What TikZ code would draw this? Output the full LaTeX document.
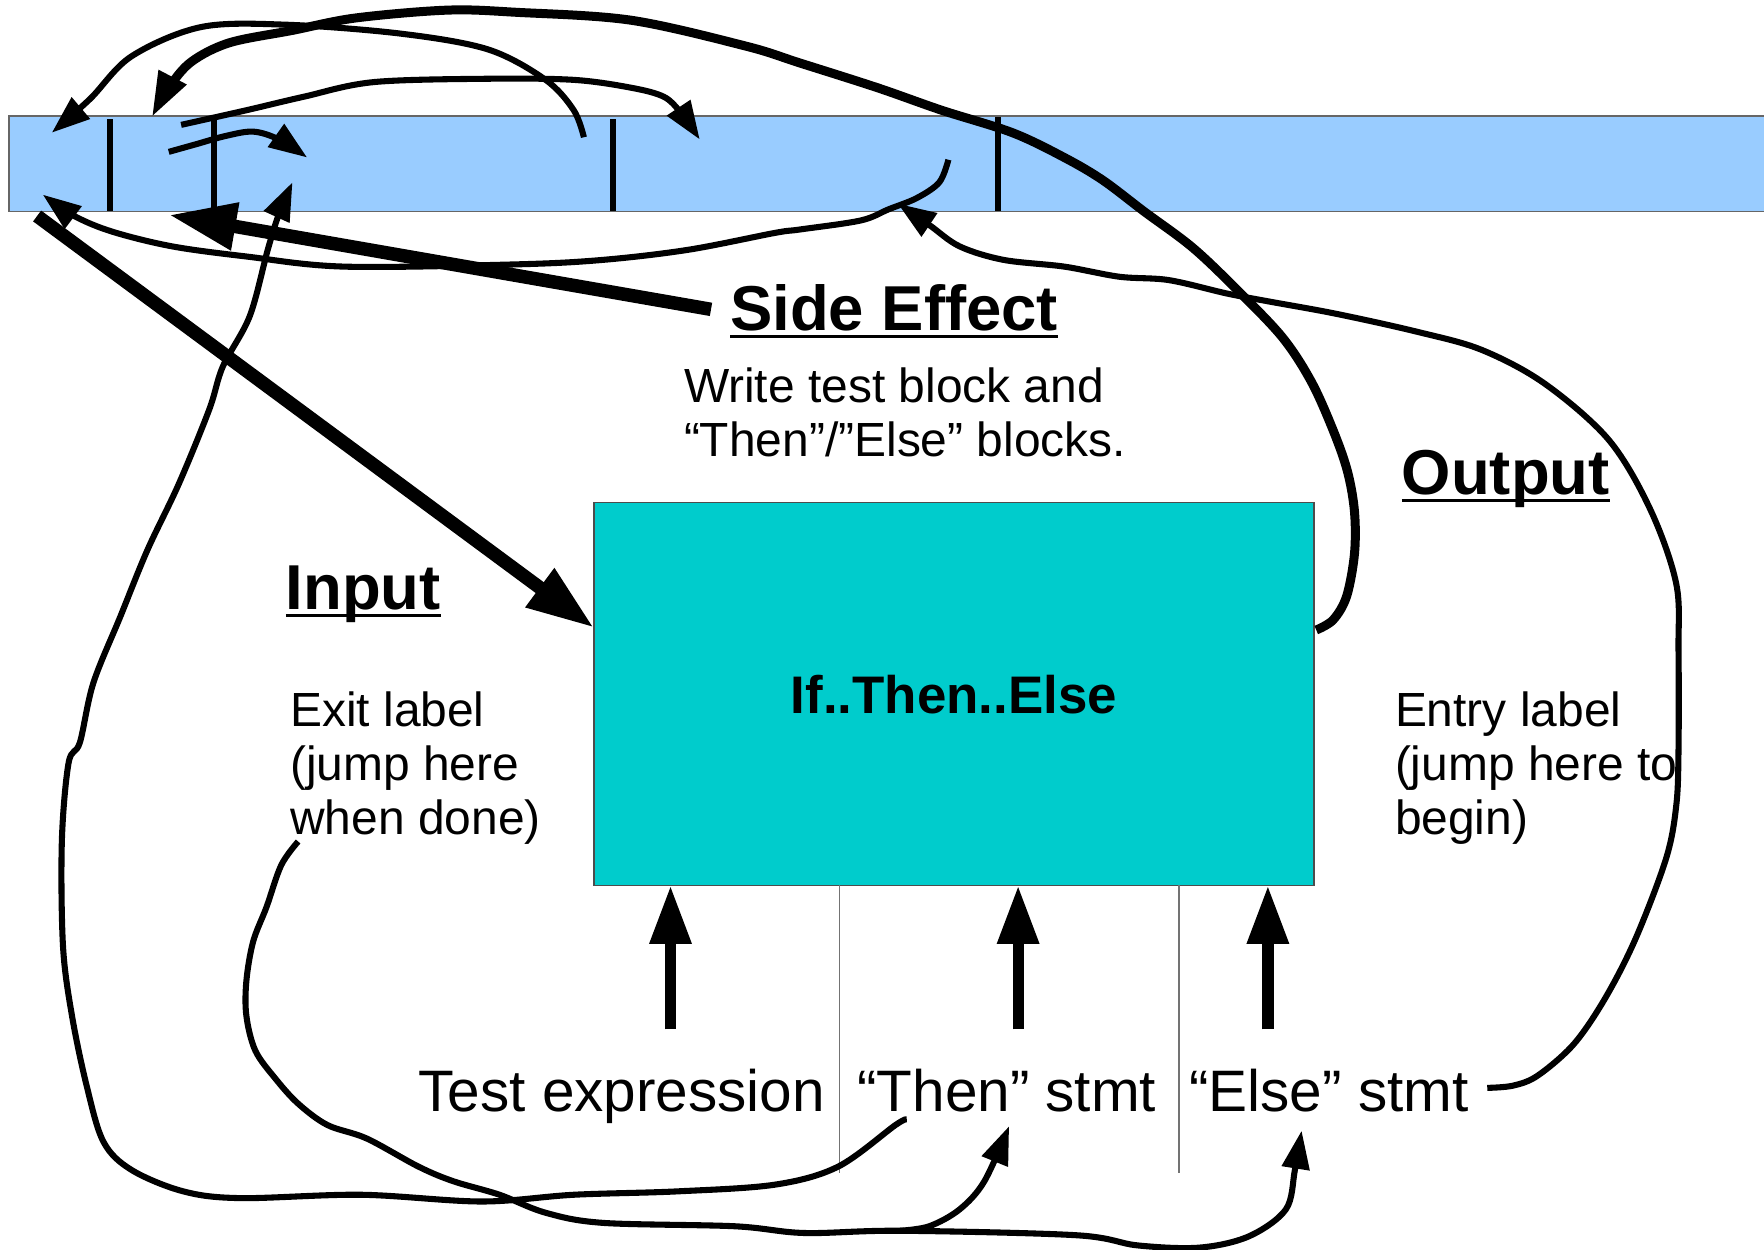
\documentclass[tikz,border=0pt]{standalone}
\usepackage{fontspec}
\setmainfont{Liberation Sans}
\usetikzlibrary{arrows.meta}
\definecolor{bandblue}{HTML}{99CCFF}
\definecolor{boxcyan}{HTML}{00CCCC}
\begin{document}
\begin{tikzpicture}[x=0.5pt,y=-0.5pt,
  every node/.style={inner sep=0pt,outer sep=0pt},
  txt/.style={anchor=base west,font=\fontsize{21.3}{24}\selectfont},
  bigtxt/.style={anchor=base west,font=\fontsize{26}{30}\selectfont},
  heading/.style={anchor=base west,font=\bfseries\fontsize{28.2}{32}\selectfont},
  ul/.style={line width=1.5pt},
  tickmark/.style={line width=2.5pt},
  sepline/.style={line width=0.5pt,draw=black!55},
  wire/.style={line width=2.7pt,line join=round},
  thickwire/.style={line width=4pt,line join=round},
  heavy/.style={line width=6pt},
  thinhead/.style={-{Triangle[length=17pt,width=12pt]}},
  midhead/.style={-{Triangle[length=20pt,width=13pt]}},
  bighead/.style={-{Triangle[length=30pt,width=20pt]}},
  uphead/.style={-{Triangle[length=26pt,width=17.5pt]}},
]
\useasboundingbox (0,0) rectangle (1568,1111);

% memory band and its slot marks
\node[draw=black!60,line width=0.6pt,fill=bandblue,anchor=north west,
      minimum width=790pt,minimum height=42.5pt] (band) at (8,103) {};
\draw[tickmark] (98,106) -- (98,188);
\draw[tickmark] (190,105) -- (190,186);
\draw[tickmark] (545,106) -- (545,188);
\draw[tickmark] (887,104) -- (887,188);

% the construct itself
\node[draw=black!70,line width=0.5pt,fill=boxcyan,minimum width=320pt,minimum height=170pt,
      font=\bfseries\fontsize{23.5}{28}\selectfont] (ite) at (848,617) {If..Then..Else};

% separators between the three operands
\draw[sepline] (ite.south -| 746,0) -- (746,1043);
\draw[sepline] (ite.south -| 1048,0) -- (1048,1043);

% headings
\node[heading] (se) at (649,294) {Side Effect};
\draw[ul] ([yshift=-2.5pt]se.base west) -- ([yshift=-2.5pt]se.base east);
\node[heading] (inp) at (254,542) {Input};
\draw[ul] ([yshift=-2.5pt]inp.base west) -- ([yshift=-2.5pt]inp.base east);
\node[heading] (outp) at (1246,440) {Output};
\draw[ul] ([yshift=-2.5pt]outp.base west) -- ([yshift=-2.5pt]outp.base east);

% descriptive text
\node[txt] (se1) at (608,358) {Write test block and};
\node[txt] (se2) at (608,406) {“Then”/”Else” blocks.};
\node[txt] (ex1) at (258,646) {Exit label};
\node[txt] (ex2) at (258,694) {(jump here};
\node[txt] (ex3) at (258,742) {when done)};
\node[txt] (en1) at (1240,646) {Entry label};
\node[txt] (en2) at (1240,694) {(jump here to};
\node[txt] (en3) at (1240,742) {begin)};

% operands
\node[bigtxt] (test) at (372,988) {Test expression};
\node[bigtxt] (then) at (762,988) {“Then” stmt};
\node[bigtxt] (else) at (1057,988) {“Else” stmt};

% operand arrows into the construct
\coordinate (tq) at (596,915);
\coordinate (hq) at (905,915);
\coordinate (eq) at (1127,915);
\draw[uphead,line width=5pt] (tq) -- (tq |- ite.south);
\draw[uphead,line width=5pt] (hq) -- (hq |- ite.south);
\draw[uphead,line width=5pt] (eq) -- (eq |- ite.south);

% input and side-effect arrows
\coordinate (inS) at (33,192);
\coordinate (inT) at (528,558);
\draw[heavy,bighead] (inS) -- (inT);
\coordinate (seS) at (632,275);
\coordinate (seT) at (150,191);
\draw[heavy,bighead] (seS) -- (seT);

% output: jump from the end of the construct back to the start of the band
\coordinate (dS) at (1170,560);
\coordinate (dT) at (135,104);
\draw[thickwire,midhead] plot[smooth,tension=0.55] coordinates {(dS) (1185,551) (1197,530)
  (1204,492) (1204,455) (1198,420) (1186,385) (1166,340) (1140,300) (1100,258) (1060,220)
  (1017,188) (980,160) (946,140) (900,118) (837,98) (780,78) (711,56) (663,41) (561,18)
  (460,11) (398,9) (316,16) (260,27) (204,38) (170,55) (150,78) (dT)};

% jumps inside the band
\coordinate (eS) at (519,122);
\coordinate (eT) at (46,118);
\draw[wire,thinhead] plot[smooth,tension=0.55] coordinates {(eS) (510,98) (485,71) (434,44)
  (357,30) (255,22) (179,24) (117,50) (80,88) (eT)};
\coordinate (fS) at (161,111);
\coordinate (fT) at (622,124);
\draw[wire,thinhead] plot[smooth,tension=0.55] coordinates {(fS) (219,98) (270,86) (332,73)
  (434,70) (510,71) (561,78) (590,86) (605,100) (fT)};
\coordinate (gS) at (150,135);
\coordinate (gT) at (273,140);
\draw[wire,thinhead] plot[smooth,tension=0.55] coordinates {(gS) (175,128) (200,121)
  (225,117) (248,124) (gT)};
\coordinate (hS) at (843,142);
\coordinate (hT) at (38,173);
\draw[wire,thinhead] plot[smooth,tension=0.55] coordinates {(hS) (835,162) (815,176)
  (790,186) (765,196) (711,204) (689,207) (612,222) (536,231) (459,235) (306,237)
  (219,228) (153,219) (100,206) (66,192) (hT)};

% entry label: from the else operand round to the band
\coordinate (cS) at (1322,967);
\coordinate (cT) at (798,181);
\draw[wire,thinhead] plot[smooth,tension=0.55] coordinates {(cS) (1345,965) (1367,956)
  (1399,928) (1427,887) (1454,834) (1481,763) (1490,716) (1492,667) (1492,578) (1490,519)
  (1467,453) (1430,391) (1373,341) (1317,311) (1260,295) (1188,279) (1128,268) (1091,261)
  (1039,249) (995,246) (946,237) (892,231) (853,219) (826,200) (cT)};

% from the then operand round the left side into the band
\coordinate (bS) at (806,995);
\coordinate (bT) at (260,162);
\draw[wire,thinhead] plot[smooth,tension=0.55] coordinates {(bS) (796,1000) (745,1037)
  (689,1053) (602,1059) (510,1062) (428,1068) (321,1062) (214,1065) (163,1059) (117,1040)
  (92,1015) (77,965) (64,903) (56,841) (55,747) (61,678) (71,660) (83,607) (107,548)
  (131,489) (159,430) (186,364) (198,326) (222,281) (238,222) (248,190) (bT)};

% exit label: down and round to both branch operands
\coordinate (aS) at (265,748);
\coordinate (aJ) at (800,1094);
\coordinate (aT1) at (897,1001);
\coordinate (aT2) at (1157,1005);
\draw[wire,thinhead] plot[smooth,tension=0.55] coordinates {(aS) (250,769) (237,806)
  (225,837) (219,872) (219,903) (227,934) (245,959) (265,981) (291,1000) (326,1012)
  (372,1037) (403,1050) (444,1062) (485,1078) (536,1087) (653,1090) (715,1096) (aJ)
  (957,1098) (1011,1107) (1066,1109) (1110,1099) (1143,1075) (1151,1040) (aT2)};
\draw[wire,thinhead] plot[smooth,tension=0.55] coordinates {(aJ) (826,1090) (853,1075)
  (875,1050) (aT1)};
\end{tikzpicture}
\end{document}
